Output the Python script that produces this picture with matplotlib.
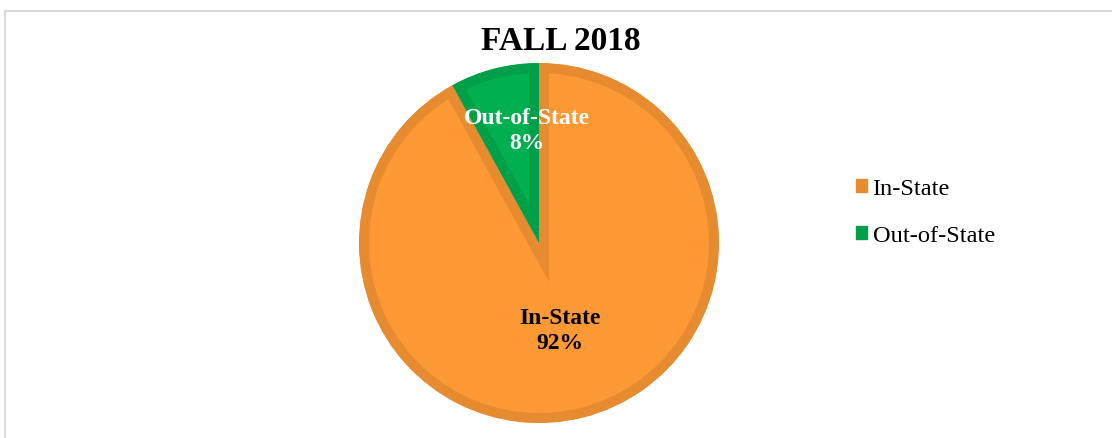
import matplotlib
matplotlib.use("Agg")
import matplotlib.pyplot as plt
from matplotlib.patches import Patch
from matplotlib.lines import Line2D

# ---- data ----
title = "FALL 2018"
categories = ["In-State", "Out-of-State"]
values = [92, 8]
pct_labels = ["92%", "8%"]

fill_colors = ["#FD9935", "#00B050"]
edge_colors = ["#E78B30", "#00A04A"]

W, H = 1112, 439
DPI = 100
plt.rcParams['font.family'] = ['Liberation Serif', 'DejaVu Serif']

fig = plt.figure(figsize=(W / DPI, H / DPI), dpi=DPI)

# pie axes: center (539, 244) px, radius 180 px
cx, cy, r = 539, 244, 180
ax = fig.add_axes([(cx - r) / W, (H - cy - r) / H, 2 * r / W, 2 * r / H])
wedges, _ = ax.pie(values, colors=fill_colors, startangle=90, counterclock=False,
                   radius=1.0, wedgeprops=dict(linewidth=0))
edge_px = 10
for w, ec in zip(wedges, edge_colors):
    w.set_edgecolor(ec)
    w.set_linewidth(2 * edge_px * 72 / DPI)
    w.set_clip_on(True)
    w.set_clip_path(w)
ax.set_xlim(-1, 1)
ax.set_ylim(-1, 1)
ax.set_aspect('equal')
ax.axis('off')

# data labels
label_pos = [(0.117, -0.485), (-0.067, 0.63)]
label_col = ["black", "white"]
for cat, pct, (x, y), c in zip(categories, pct_labels, label_pos, label_col):
    ax.text(x, y, f"{cat}\n{pct}", ha='center', va='center', fontsize=17,
            fontweight='bold', color=c, linespacing=1.25)

# title
fig.text(561 / W, 1 - 50 / H, title, ha='center', va='baseline',
         fontsize=24, fontweight='bold', color='black')

# legend
handles = [Patch(facecolor=ec, edgecolor=ec) for ec in edge_colors]
fig.legend(handles, categories, loc='upper left',
           bbox_to_anchor=(856 / W, 1 - 179 / H), frameon=False,
           fontsize=17.6, handlelength=0.43, handleheight=0.43,
           handletextpad=0.25, labelspacing=1.08, borderpad=0, borderaxespad=0)

# chart border (top and left visible)
fig.add_artist(Line2D([5 / W, 1], [1 - 11.5 / H, 1 - 11.5 / H], color='#D9D9D9', lw=1.5))
fig.add_artist(Line2D([5 / W, 5 / W], [0, 1 - 11.5 / H], color='#D9D9D9', lw=1.5))

fig.savefig("out.png", dpi=DPI)
